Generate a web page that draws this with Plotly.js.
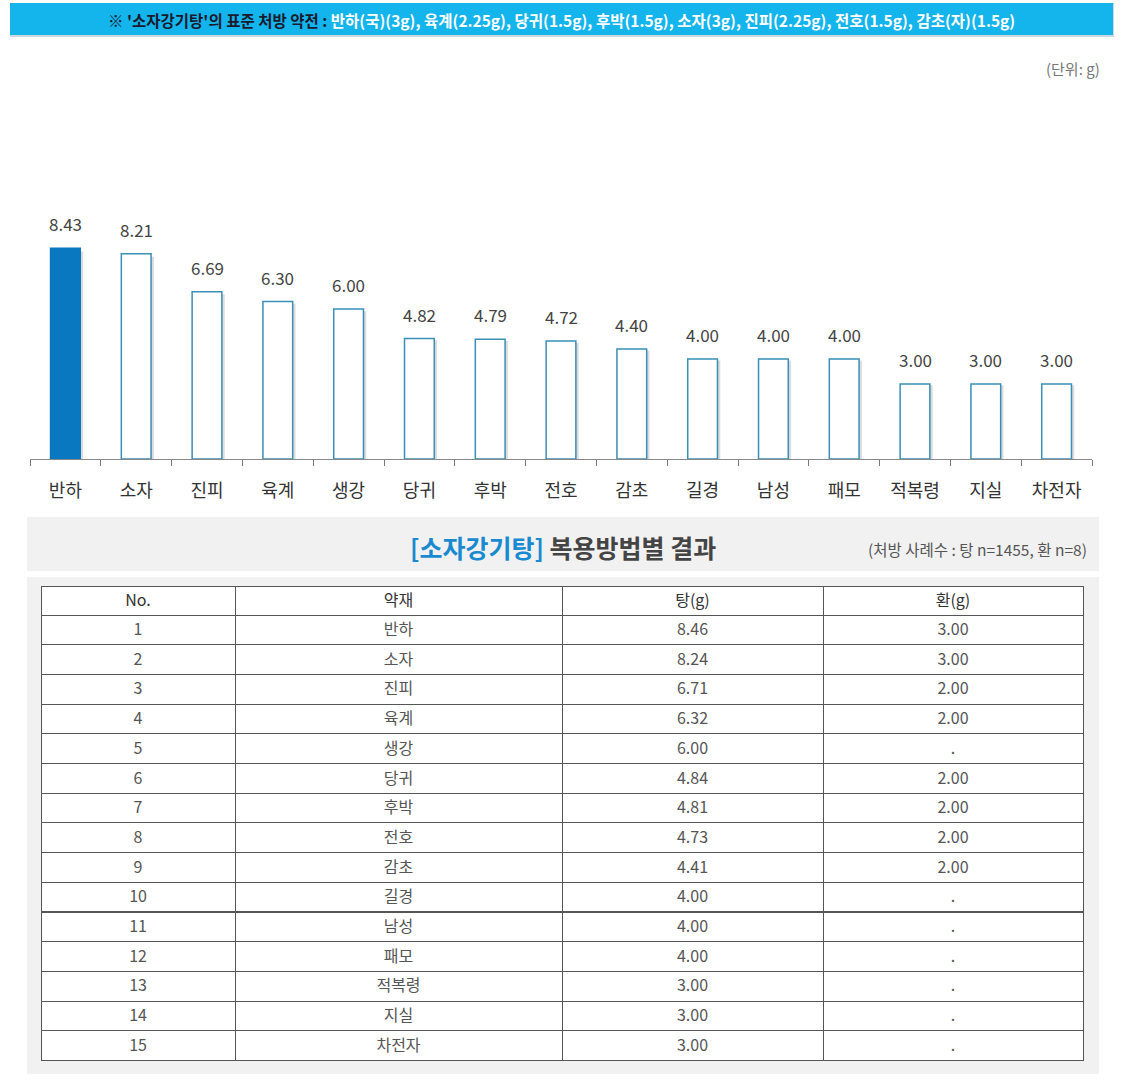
<!DOCTYPE html>
<html>
<head>
<meta charset="utf-8">
<script src="https://cdn.plot.ly/plotly-3.0.1.min.js"></script>
<style>
html,body{margin:0;padding:0;background:#fff;}
#chart{width:1141px;height:1092px;}
</style>
</head>
<body>
<div id="chart"></div>
<script>
// ---- data ----
const herbs = ['반하','소자','진피','육계','생강','당귀','후박','전호','감초','길경','남성','패모','적복령','지실','차전자'];
const chartValues = [8.43,8.21,6.69,6.30,6.00,4.82,4.79,4.72,4.40,4.00,4.00,4.00,3.00,3.00,3.00];
const tangValues = [8.46,8.24,6.71,6.32,6.00,4.84,4.81,4.73,4.41,4.00,4.00,4.00,3.00,3.00,3.00];
const hwanValues = ['3.00','3.00','2.00','2.00','.','2.00','2.00','2.00','2.00','.','.','.','.','.','.'];
const tableHeaders = ['No.','약재','탕(g)','환(g)'];
const bannerLead = "※ '소자강기탕'의 표준 처방 약전 :";
const bannerBody = "반하(국)(3g), 육계(2.25g), 당귀(1.5g), 후박(1.5g), 소자(3g), 진피(2.25g), 전호(1.5g), 감초(자)(1.5g)";
const unitLabel = "(단위: g)";
const tableTitleBlue = "[소자강기탕]";
const tableTitleRest = "복용방법별 결과";
const tableNote = "(처방 사례수 : 탕 n=1455, 환 n=8)";

// ---- layout helpers ----
const W = 1141, H = 1092;
const px = x => x / W;
const py = y => 1 - y / H;
const FONT = '"Noto Sans CJK KR", "Noto Sans", sans-serif';
const BLUE = '#0a78c0';

const fillColors = herbs.map((_, i) => i === 0 ? BLUE : '#ffffff');
const lineColors = herbs.map((_, i) => i === 0 ? BLUE : '#3a8fb8');

const shadow = {
  type: 'bar', x: herbs, y: chartValues.map(v => v * 0.985),
  width: 0.42, offset: -0.17,
  marker: {color: 'rgba(60,60,60,0.18)', line: {width: 0}},
  hoverinfo: 'skip', showlegend: false, xaxis: 'x', yaxis: 'y'
};
const bars = {
  type: 'bar', x: herbs, y: chartValues,
  width: 0.42, offset: -0.21,
  marker: {color: fillColors, line: {color: lineColors, width: 1.5}},
  showlegend: false, xaxis: 'x', yaxis: 'y'
};

const table = {
  type: 'table',
  domain: {x: [px(41), px(1083)], y: [py(1062), py(586)]},
  columnwidth: [194, 327, 261, 260],
  header: {
    values: tableHeaders,
    align: 'center',
    height: 29,
    fill: {color: '#ffffff'},
    line: {color: '#555555', width: 1},
    font: {family: FONT, size: 16, color: '#333333'}
  },
  cells: {
    values: [herbs.map((_, i) => String(i + 1)), herbs, tangValues.map(v => v.toFixed(2)), hwanValues],
    align: 'center',
    height: 29.7,
    fill: {color: '#ffffff'},
    line: {color: '#555555', width: 1},
    font: {family: FONT, size: 16, color: '#555555'}
  }
};

const valueAnnotations = herbs.map((h, i) => ({
  x: h, y: chartValues[i], xref: 'x', yref: 'y',
  text: chartValues[i].toFixed(2), showarrow: false,
  yanchor: 'bottom', yshift: 10,
  font: {family: FONT, size: 17, color: '#444444'}
}));

const layout = {
  width: W, height: H,
  margin: {l: 0, r: 0, t: 0, b: 0},
  paper_bgcolor: '#ffffff', plot_bgcolor: 'rgba(0,0,0,0)',
  barmode: 'overlay',
  showlegend: false,
  font: {family: FONT},
  xaxis: {
    domain: [px(30), px(1092)],
    anchor: 'y',
    type: 'category',
    range: [-0.5, herbs.length - 0.5],
    showgrid: false, zeroline: false,
    showline: true, linecolor: '#888888', linewidth: 1,
    ticks: 'outside', tickson: 'boundaries', ticklen: 6, tickcolor: '#777777',
    ticklabelstandoff: 15,
    tickfont: {family: FONT, size: 18, color: '#333333'}
  },
  yaxis: {
    domain: [py(459), py(100)],
    anchor: 'x',
    range: [0, 359 / 25],
    visible: false, showgrid: false, zeroline: false
  },
  shapes: [
    {type: 'rect', xref: 'paper', yref: 'paper', x0: px(10), x1: px(1114), y0: py(37), y1: py(3),
     fillcolor: '#cfd8dc', line: {width: 0}, layer: 'below'},
    {type: 'rect', xref: 'paper', yref: 'paper', x0: px(10), x1: px(1113), y0: py(35), y1: py(3),
     fillcolor: '#14b4ec', line: {width: 0}, layer: 'below'},
    {type: 'rect', xref: 'paper', yref: 'paper', x0: px(27), x1: px(1099), y0: py(571), y1: py(517),
     fillcolor: '#f1f1f1', line: {width: 0}, layer: 'below'},
    {type: 'rect', xref: 'paper', yref: 'paper', x0: px(27), x1: px(1099), y0: py(1074), y1: py(577),
     fillcolor: '#f1f1f1', line: {width: 0}, layer: 'below'}
  ],
  annotations: valueAnnotations.concat([
    {xref: 'paper', yref: 'paper', x: px(561), y: py(20), xanchor: 'center', yanchor: 'middle',
     showarrow: false,
     text: '<b><span style="color:#1a1a2e">' + bannerLead + '</span> ' + bannerBody + '</b>',
     font: {family: FONT, size: 15.5, color: '#ffffff'}},
    {xref: 'paper', yref: 'paper', x: px(1102), y: py(68), xanchor: 'right', yanchor: 'middle',
     showarrow: false, text: unitLabel,
     font: {family: FONT, size: 15, color: '#777777'}},
    {xref: 'paper', yref: 'paper', x: px(563), y: py(547), xanchor: 'center', yanchor: 'middle',
     showarrow: false,
     text: '<b><span style="color:#1a8ad0">' + tableTitleBlue + '</span> ' + tableTitleRest + '</b>',
     font: {family: FONT, size: 25, color: '#444444'}},
    {xref: 'paper', yref: 'paper', x: px(1089), y: py(549), xanchor: 'right', yanchor: 'middle',
     showarrow: false, text: tableNote,
     font: {family: FONT, size: 15.5, color: '#555555'}}
  ])
};

Plotly.newPlot('chart', [shadow, bars, table], layout, {displayModeBar: false, staticPlot: true});
</script>
</body>
</html>
